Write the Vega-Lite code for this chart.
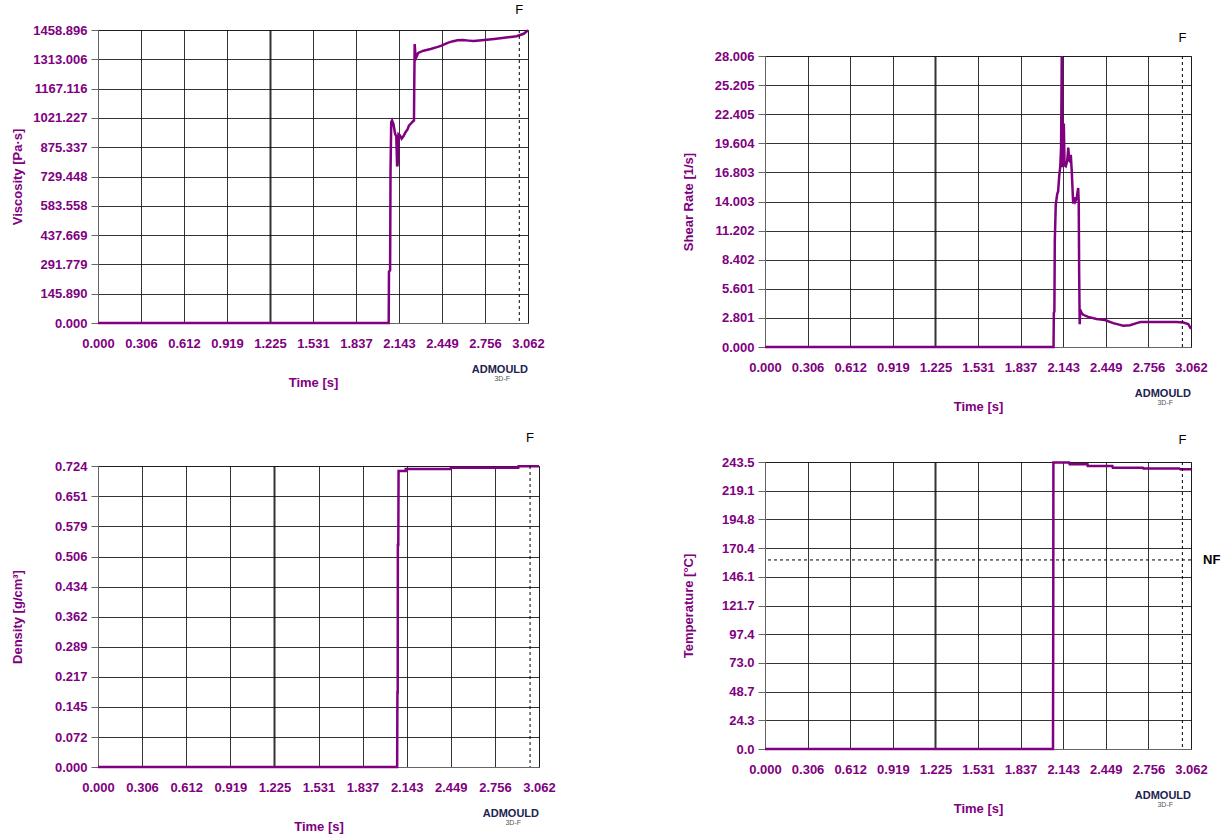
{
  "$schema": "https://vega.github.io/schema/vega-lite/v6.json",
  "background": "white",
  "padding": {"left": 10, "top": 3, "right": 0, "bottom": 0},
  "autosize": {"type": "pad"},
  "datasets": {
    "visc": [
      {"t":0,"v":0},{"t":2.070,"v":0},{"t":2.072,"v":255},{"t":2.080,"v":262},{"t":2.083,"v":750},{"t":2.088,"v":1000},{"t":2.094,"v":1008},{"t":2.104,"v":990},{"t":2.116,"v":941},{"t":2.124,"v":930},{"t":2.130,"v":780},{"t":2.134,"v":790},{"t":2.140,"v":940},{"t":2.150,"v":935},{"t":2.162,"v":918},{"t":2.175,"v":930},{"t":2.190,"v":950},{"t":2.205,"v":965},{"t":2.214,"v":983},{"t":2.226,"v":991},{"t":2.240,"v":1002},{"t":2.250,"v":1008},{"t":2.252,"v":1180},{"t":2.255,"v":1389},{"t":2.260,"v":1340},{"t":2.266,"v":1323},{"t":2.280,"v":1345},{"t":2.318,"v":1356},{"t":2.369,"v":1364},{"t":2.420,"v":1375},{"t":2.446,"v":1381},{"t":2.490,"v":1395},{"t":2.522,"v":1402},{"t":2.560,"v":1408},{"t":2.598,"v":1409},{"t":2.640,"v":1406},{"t":2.675,"v":1404},{"t":2.751,"v":1409},{"t":2.820,"v":1414},{"t":2.879,"v":1419},{"t":2.940,"v":1424},{"t":2.981,"v":1428},{"t":3.031,"v":1440},{"t":3.062,"v":1458}
    ],
    "shear": [
      {"t":0,"v":0},{"t":2.074,"v":0},{"t":2.076,"v":3.3},{"t":2.080,"v":3.4},{"t":2.083,"v":10.2},{"t":2.090,"v":13.7},{"t":2.100,"v":14.7},{"t":2.107,"v":15.0},{"t":2.115,"v":16.5},{"t":2.122,"v":17.3},{"t":2.128,"v":19.2},{"t":2.131,"v":24.0},{"t":2.133,"v":28.0},{"t":2.135,"v":24.0},{"t":2.137,"v":17.3},{"t":2.143,"v":18.5},{"t":2.148,"v":21.5},{"t":2.153,"v":17.5},{"t":2.162,"v":17.4},{"t":2.172,"v":17.9},{"t":2.180,"v":19.2},{"t":2.186,"v":18.0},{"t":2.191,"v":17.9},{"t":2.198,"v":18.5},{"t":2.205,"v":16.9},{"t":2.215,"v":13.8},{"t":2.222,"v":14.4},{"t":2.230,"v":14.0},{"t":2.240,"v":14.3},{"t":2.251,"v":15.3},{"t":2.255,"v":14.0},{"t":2.258,"v":7.3},{"t":2.262,"v":2.2},{"t":2.266,"v":3.6},{"t":2.275,"v":3.3},{"t":2.287,"v":3.1},{"t":2.323,"v":2.9},{"t":2.383,"v":2.7},{"t":2.443,"v":2.6},{"t":2.503,"v":2.3},{"t":2.545,"v":2.15},{"t":2.575,"v":2.05},{"t":2.623,"v":2.1},{"t":2.671,"v":2.3},{"t":2.700,"v":2.4},{"t":2.767,"v":2.4},{"t":2.900,"v":2.4},{"t":2.958,"v":2.4},{"t":3.006,"v":2.35},{"t":3.042,"v":2.2},{"t":3.062,"v":1.75}
    ],
    "dens": [
      {"t":0,"v":0},{"t":2.077,"v":0},{"t":2.079,"v":0.179},{"t":2.081,"v":0.179},{"t":2.082,"v":0.534},{"t":2.085,"v":0.534},{"t":2.087,"v":0.712},{"t":2.136,"v":0.712},{"t":2.137,"v":0.7165},{"t":2.449,"v":0.7165},{"t":2.450,"v":0.7195},{"t":2.918,"v":0.7195},{"t":2.920,"v":0.7235},{"t":3.062,"v":0.7235}
    ],
    "temp": [
      {"t":0,"v":0},{"t":2.070,"v":0},{"t":2.072,"v":121},{"t":2.073,"v":243.0},{"t":2.186,"v":243.0},{"t":2.190,"v":241.5},{"t":2.318,"v":241.5},{"t":2.320,"v":240.1},{"t":2.497,"v":240.1},{"t":2.500,"v":238.7},{"t":2.715,"v":238.7},{"t":2.720,"v":237.9},{"t":2.978,"v":237.9},{"t":2.985,"v":237.3},{"t":3.062,"v":237.3}
    ],
    "fmark": [{"t": 3.0, "lab": "F"}],
    "nfmark": [{"v": 160.4, "t": 3.062, "lab": "NF"}],
    "logo": [{"t": 3.062, "lab": "ADMOULD", "sub": "3D-F"}]
  },
  "config": {
    "view": {"stroke": "#666666", "strokeWidth": 1},
    "axis": {
      "labelFont": "Liberation Sans", "labelFontSize": 13, "labelFontWeight": "bold", "labelColor": "#800080",
      "titleFont": "Liberation Sans", "titleFontSize": 13, "titleFontWeight": "bold", "titleColor": "#800080",
      "gridColor": "#111111", "gridOpacity": 0.85,
      "domainColor": "#666666", "tickColor": "#666666",
      "labelOverlap": false, "labelFlush": false, "labelBound": false
    },
    "axisX": {"ticks": false, "labelPadding": 14, "titlePadding": 26},
    "axisY": {"tickSize": 7, "labelPadding": 4, "titlePadding": 8}
  },
  "spacing": 125,
  "hconcat": [
    {
      "spacing": 41,
      "vconcat": [
        {
          "width": 430, "height": 293,
          "layer": [
            {
              "data": {"name": "visc"},
              "mark": {"type": "line", "color": "#800080", "strokeWidth": 2.5},
              "encoding": {
                "x": {"field": "t", "type": "quantitative", "title": "Time [s]", "scale": {"domain": [0, 3.062], "nice": false, "zero": false},
                  "axis": {"values": [0,0.306,0.612,0.919,1.225,1.531,1.837,2.143,2.449,2.756,3.062], "tickCount": 30, "format": ".3f", "gridWidth": {"condition": {"test": "abs(datum.value - 1.225) < 0.001", "value": 2}, "value": 1}}},
                "y": {"field": "v", "type": "quantitative", "title": "Viscosity [Pa·s]", "scale": {"domain": [0, 1458.896], "nice": false},
                  "axis": {"values": [0,145.890,291.779,437.669,583.558,729.448,875.337,1021.227,1167.116,1313.006,1458.896], "tickCount": 30, "format": ".3f", "minExtent": 66, "maxExtent": 66}}
              }
            },
            {
              "data": {"name": "fmark"},
              "mark": {"type": "rule", "color": "#000000", "strokeDash": [3, 3], "strokeWidth": 1},
              "encoding": {"x": {"field": "t", "type": "quantitative"}}
            },
            {
              "data": {"name": "fmark"},
              "mark": {"type": "text", "font": "Liberation Sans", "fontSize": 13, "color": "#000000", "baseline": "bottom", "dy": -13},
              "encoding": {"x": {"field": "t", "type": "quantitative"}, "y": {"datum": 1458.896, "type": "quantitative"}, "text": {"field": "lab"}}
            },
            {
              "data": {"name": "logo"},
              "mark": {"type": "text", "font": "Liberation Sans", "fontSize": 11, "fontWeight": "bold", "color": "#22224f", "align": "right", "baseline": "top", "dy": 41},
              "encoding": {"x": {"field": "t", "type": "quantitative"}, "y": {"datum": 0, "type": "quantitative"}, "text": {"field": "lab"}}
            },
            {
              "data": {"name": "logo"},
              "mark": {"type": "text", "font": "Liberation Sans", "fontSize": 7, "color": "#555555", "align": "right", "baseline": "top", "dy": 52, "dx": -18},
              "encoding": {"x": {"field": "t", "type": "quantitative"}, "y": {"datum": 0, "type": "quantitative"}, "text": {"field": "sub"}}
            }
          ]
        },
        {
          "width": 441, "height": 301,
          "layer": [
            {
              "data": {"name": "dens"},
              "mark": {"type": "line", "color": "#800080", "strokeWidth": 2.5},
              "encoding": {
                "x": {"field": "t", "type": "quantitative", "title": "Time [s]", "scale": {"domain": [0, 3.062], "nice": false, "zero": false},
                  "axis": {"values": [0,0.306,0.612,0.919,1.225,1.531,1.837,2.143,2.449,2.756,3.062], "tickCount": 30, "format": ".3f", "gridWidth": {"condition": {"test": "abs(datum.value - 1.225) < 0.001", "value": 2}, "value": 1}}},
                "y": {"field": "v", "type": "quantitative", "title": "Density [g/cm³]", "scale": {"domain": [0, 0.724], "nice": false},
                  "axis": {"values": [0,0.072,0.145,0.217,0.289,0.362,0.434,0.506,0.579,0.651,0.724], "tickCount": 30, "format": ".3f", "minExtent": 66, "maxExtent": 66}}
              }
            },
            {
              "data": {"name": "fmark"},
              "mark": {"type": "rule", "color": "#000000", "strokeDash": [3, 3], "strokeWidth": 1},
              "encoding": {"x": {"field": "t", "type": "quantitative"}}
            },
            {
              "data": {"name": "fmark"},
              "mark": {"type": "text", "font": "Liberation Sans", "fontSize": 13, "color": "#000000", "baseline": "bottom", "dy": -21},
              "encoding": {"x": {"field": "t", "type": "quantitative"}, "y": {"datum": 0.724, "type": "quantitative"}, "text": {"field": "lab"}}
            },
            {
              "data": {"name": "logo"},
              "mark": {"type": "text", "font": "Liberation Sans", "fontSize": 11, "fontWeight": "bold", "color": "#22224f", "align": "right", "baseline": "top", "dy": 41},
              "encoding": {"x": {"field": "t", "type": "quantitative"}, "y": {"datum": 0, "type": "quantitative"}, "text": {"field": "lab"}}
            },
            {
              "data": {"name": "logo"},
              "mark": {"type": "text", "font": "Liberation Sans", "fontSize": 7, "color": "#555555", "align": "right", "baseline": "top", "dy": 52, "dx": -18},
              "encoding": {"x": {"field": "t", "type": "quantitative"}, "y": {"datum": 0, "type": "quantitative"}, "text": {"field": "sub"}}
            }
          ]
        }
      ]
    },
    {
      "spacing": 0,
      "vconcat": [
        {
          "width": 426, "height": 1,
          "view": {"stroke": null},
          "data": {"values": []},
          "mark": {"type": "point", "opacity": 0},
          "encoding": {}
        },
        {
          "width": 426, "height": 291,
          "layer": [
            {
              "data": {"name": "shear"},
              "mark": {"type": "line", "color": "#800080", "strokeWidth": 2.5},
              "encoding": {
                "x": {"field": "t", "type": "quantitative", "title": "Time [s]", "scale": {"domain": [0, 3.062], "nice": false, "zero": false},
                  "axis": {"values": [0,0.306,0.612,0.919,1.225,1.531,1.837,2.143,2.449,2.756,3.062], "tickCount": 30, "format": ".3f", "gridWidth": {"condition": {"test": "abs(datum.value - 1.225) < 0.001", "value": 2}, "value": 1}}},
                "y": {"field": "v", "type": "quantitative", "title": "Shear Rate [1/s]", "scale": {"domain": [0, 28.006], "nice": false},
                  "axis": {"values": [0,2.801,5.601,8.402,11.202,14.003,16.803,19.604,22.405,25.205,28.006], "tickCount": 30, "format": ".3f", "minExtent": 62, "maxExtent": 62}}
              }
            },
            {
              "data": {"name": "fmark"},
              "mark": {"type": "rule", "color": "#000000", "strokeDash": [3, 3], "strokeWidth": 1},
              "encoding": {"x": {"field": "t", "type": "quantitative"}}
            },
            {
              "data": {"name": "fmark"},
              "mark": {"type": "text", "font": "Liberation Sans", "fontSize": 13, "color": "#000000", "baseline": "bottom", "dy": -11},
              "encoding": {"x": {"field": "t", "type": "quantitative"}, "y": {"datum": 28.006, "type": "quantitative"}, "text": {"field": "lab"}}
            },
            {
              "data": {"name": "logo"},
              "mark": {"type": "text", "font": "Liberation Sans", "fontSize": 11, "fontWeight": "bold", "color": "#22224f", "align": "right", "baseline": "top", "dy": 41},
              "encoding": {"x": {"field": "t", "type": "quantitative"}, "y": {"datum": 0, "type": "quantitative"}, "text": {"field": "lab"}}
            },
            {
              "data": {"name": "logo"},
              "mark": {"type": "text", "font": "Liberation Sans", "fontSize": 7, "color": "#555555", "align": "right", "baseline": "top", "dy": 52, "dx": -18},
              "encoding": {"x": {"field": "t", "type": "quantitative"}, "y": {"datum": 0, "type": "quantitative"}, "text": {"field": "sub"}}
            }
          ]
        },
        {
          "width": 426, "height": 287,
          "title": {"text": " ", "fontSize": 10, "offset": 9},
          "layer": [
            {
              "data": {"name": "temp"},
              "mark": {"type": "line", "color": "#800080", "strokeWidth": 2.5},
              "encoding": {
                "x": {"field": "t", "type": "quantitative", "title": "Time [s]", "scale": {"domain": [0, 3.062], "nice": false, "zero": false},
                  "axis": {"values": [0,0.306,0.612,0.919,1.225,1.531,1.837,2.143,2.449,2.756,3.062], "tickCount": 30, "format": ".3f", "gridWidth": {"condition": {"test": "abs(datum.value - 1.225) < 0.001", "value": 2}, "value": 1}}},
                "y": {"field": "v", "type": "quantitative", "title": "Temperature [°C]", "scale": {"domain": [0, 243.5], "nice": false},
                  "axis": {"values": [0,24.3,48.7,73.0,97.4,121.7,146.1,170.4,194.8,219.1,243.5], "tickCount": 30, "format": ".1f", "minExtent": 62, "maxExtent": 62}}
              }
            },
            {
              "data": {"name": "fmark"},
              "mark": {"type": "rule", "color": "#000000", "strokeDash": [3, 3], "strokeWidth": 1},
              "encoding": {"x": {"field": "t", "type": "quantitative"}}
            },
            {
              "data": {"name": "fmark"},
              "mark": {"type": "text", "font": "Liberation Sans", "fontSize": 13, "color": "#000000", "baseline": "bottom", "dy": -15},
              "encoding": {"x": {"field": "t", "type": "quantitative"}, "y": {"datum": 243.5, "type": "quantitative"}, "text": {"field": "lab"}}
            },
            {
              "data": {"name": "nfmark"},
              "mark": {"type": "rule", "color": "#000000", "strokeDash": [3, 3], "strokeWidth": 1},
              "encoding": {"y": {"field": "v", "type": "quantitative"}}
            },
            {
              "data": {"name": "nfmark"},
              "mark": {"type": "text", "font": "Liberation Sans", "fontSize": 13, "fontWeight": "bold", "color": "#000000", "align": "left", "baseline": "middle", "dx": 12},
              "encoding": {"x": {"field": "t", "type": "quantitative"}, "y": {"field": "v", "type": "quantitative"}, "text": {"field": "lab"}}
            },
            {
              "data": {"name": "logo"},
              "mark": {"type": "text", "font": "Liberation Sans", "fontSize": 11, "fontWeight": "bold", "color": "#22224f", "align": "right", "baseline": "top", "dy": 41},
              "encoding": {"x": {"field": "t", "type": "quantitative"}, "y": {"datum": 0, "type": "quantitative"}, "text": {"field": "lab"}}
            },
            {
              "data": {"name": "logo"},
              "mark": {"type": "text", "font": "Liberation Sans", "fontSize": 7, "color": "#555555", "align": "right", "baseline": "top", "dy": 52, "dx": -18},
              "encoding": {"x": {"field": "t", "type": "quantitative"}, "y": {"datum": 0, "type": "quantitative"}, "text": {"field": "sub"}}
            }
          ]
        }
      ]
    }
  ]
}
